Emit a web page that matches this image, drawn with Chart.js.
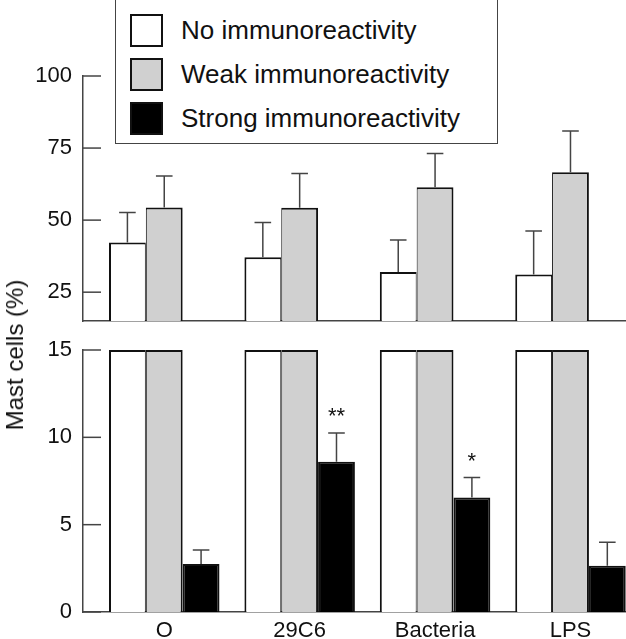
<!DOCTYPE html>
<html>
<head>
<meta charset="utf-8">
<script src="https://cdn.jsdelivr.net/npm/chart.js@4"></script>
<style>
  body { margin: 0; background: #fff; }
  #wrap { position: relative; width: 626px; height: 639px; overflow: hidden; font-family: "Liberation Sans", Arial, sans-serif; }
  canvas { position: absolute; left: 0; }
  #top { top: 0; }
  #bottom { top: 330px; }
  #legend { position: absolute; left: 115px; top: -1px; width: 383px; height: 145px; border: 1.5px solid #444; background: #fff; box-sizing: border-box; }
  .item { position: absolute; left: 13.5px; height: 33px; display: flex; align-items: center; font-size: 26px; color: #111; white-space: nowrap; }
  .swatch { width: 33px; height: 33px; box-sizing: border-box; border: 2px solid #111; margin-right: 18.5px; }
  #ytitle { position: absolute; left: 15px; top: 355px; transform: translate(-50%, -50%) rotate(-90deg); font-size: 24px; color: #111; white-space: nowrap; }
</style>
</head>
<body>
<div id="wrap">
  <canvas id="top" width="626" height="331"></canvas>
  <canvas id="bottom" width="626" height="309"></canvas>
  <div id="legend"></div>
  <div id="ytitle">Mast cells (%)</div>
</div>
<script>
const categories = ['O', '29C6', 'Bacteria', 'LPS'];
const seriesNames = ['No immunoreactivity', 'Weak immunoreactivity', 'Strong immunoreactivity'];
const noValues = [42.2, 37.1, 32.0, 31.1];
const noErrors = [10.4, 12.1, 11.1, 15.1];
const weakValues = [54.4, 54.3, 61.4, 66.6];
const weakErrors = [10.9, 11.9, 11.7, 14.3];
const strongValues = [2.75, 8.6, 6.55, 2.65];
const strongErrors = [0.8, 1.65, 1.15, 1.35];
const stars = ['', '**', '*', ''];
const topTicks = [25, 50, 75, 100];
const bottomTicks = [0, 5, 10, 15];

const fills = ['#ffffff', '#d0d0d0', '#000000'];
const family = '"Liberation Sans", Arial, sans-serif';
const series = [
  { values: noValues, errors: noErrors, border: { top: 2, left: 2, right: 1 } },
  { values: weakValues, errors: weakErrors, border: { top: 2, left: 1, right: 2 } },
  { values: strongValues, errors: strongErrors, border: 2 }
];

// legend box
const legend = document.getElementById('legend');
seriesNames.forEach((name, i) => {
  const item = document.createElement('div');
  item.className = 'item';
  item.style.top = (13.7 + i * 44) + 'px';
  const sw = document.createElement('div');
  sw.className = 'swatch';
  sw.style.background = fills[i];
  item.appendChild(sw);
  item.appendChild(document.createTextNode(name));
  legend.appendChild(item);
});

// inward ticks, error bars, stars
const decor = {
  id: 'decor',
  afterDatasetsDraw(chart, args, opts) {
    const ctx = chart.ctx, area = chart.chartArea, y = chart.scales.y;
    ctx.save();
    ctx.strokeStyle = '#444';
    ctx.lineWidth = 1.5;
    y.ticks.forEach(t => {
      const py = y.getPixelForValue(t.value);
      ctx.beginPath();
      ctx.moveTo(area.left - 1, py);
      ctx.lineTo(area.left + 18, py);
      ctx.stroke();
    });
    ctx.fillStyle = '#111';
    ctx.font = '22px ' + family;
    ctx.textAlign = 'center';
    chart.data.datasets.forEach((ds, di) => {
      if (!opts.errorSets.includes(di)) return;
      chart.getDatasetMeta(di).data.forEach((bar, i) => {
        const top = y.getPixelForValue(series[di].values[i] + series[di].errors[i]);
        ctx.beginPath();
        ctx.moveTo(bar.x, bar.y);
        ctx.lineTo(bar.x, top);
        ctx.moveTo(bar.x - 8.3, top);
        ctx.lineTo(bar.x + 8.3, top);
        ctx.stroke();
        if (opts.stars && stars[i]) ctx.fillText(stars[i], bar.x, top - 10);
      });
    });
    ctx.restore();
  }
};

function makeChart(id, yMin, yMax, ticks, padTop, xHeight, showLabels, errorSets) {
  return new Chart(document.getElementById(id), {
    type: 'bar',
    data: {
      datasets: series.map((s, di) => ({
        label: seriesNames[di],
        data: s.values.map((v, i) => ({ x: i, y: Math.min(v, yMax) })),
        backgroundColor: fills[di],
        borderColor: '#111',
        borderWidth: s.border,
        clip: 0
      }))
    },
    options: {
      responsive: false,
      animation: false,
      layout: { padding: { top: padTop, left: 0, right: 0, bottom: 0 } },
      datasets: { bar: { categoryPercentage: 0.816, barPercentage: 1 } },
      plugins: {
        legend: { display: false },
        tooltip: { enabled: false },
        decor: { errorSets: errorSets, stars: showLabels }
      },
      scales: {
        x: {
          type: 'linear', min: -0.6, max: 3.41, offset: false, z: 1,
          afterBuildTicks: s => { s.ticks = categories.map((c, i) => ({ value: i })); },
          afterFit: s => { s.height = xHeight; s.paddingLeft = 0; s.paddingRight = 0; },
          grid: { display: false, drawTicks: false, offset: false },
          border: { display: true, color: '#444', width: 1.5 },
          ticks: {
            display: showLabels, padding: 6, color: '#111', maxRotation: 0, autoSkip: false,
            font: { size: 22, family: family },
            callback: v => categories[v] ?? ''
          }
        },
        y: {
          min: yMin, max: yMax,
          afterBuildTicks: s => { s.ticks = ticks.map(v => ({ value: v })); },
          afterFit: s => { s.width = 83; s.paddingTop = 0; s.paddingBottom = 0; },
          grid: { display: false, drawTicks: false },
          border: { display: true, color: '#444', width: 1.5 },
          ticks: { padding: 11, color: '#111', font: { size: 22, family: family } }
        }
      }
    },
    plugins: [decor]
  });
}

makeChart('top', 15, 100, topTicks, 76, 10, false, [0, 1]);
makeChart('bottom', 0, 15, bottomTicks, 20, 27, true, [2]);
</script>
</body>
</html>
